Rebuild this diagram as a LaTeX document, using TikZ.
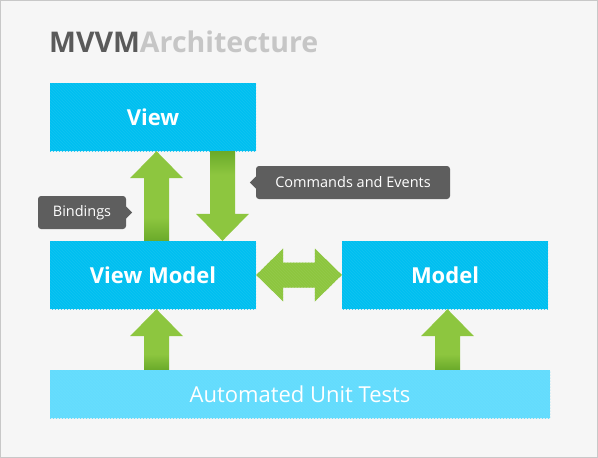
\documentclass[tikz,border=0pt]{standalone}
\usepackage{fontspec}
\setmainfont{Open Sans}
\usetikzlibrary{calc,patterns}

\definecolor{pagebg}{HTML}{F6F6F6}
\definecolor{framegray}{HTML}{C8C8C8}
\definecolor{boxblue}{HTML}{00BFF0}
\definecolor{barblue}{HTML}{6BDFFF}
\definecolor{arrowgreen}{HTML}{8DC63F}
\definecolor{arrowdark}{HTML}{6AAA2A}
\definecolor{hintgray}{HTML}{5E5E5E}
\definecolor{titledark}{HTML}{5A5A5A}
\definecolor{titlelight}{HTML}{C6C6C6}

\pgfdeclareverticalshading{greenfade}{100bp}{color(0bp)=(arrowdark); color(25bp)=(arrowdark); color(38bp)=(arrowgreen); color(100bp)=(arrowgreen)}

\tikzset{
  stripes/.style={postaction={pattern=north west lines, pattern color=#1}},
  layerbox/.style={fill=boxblue, text=white, minimum width=206pt, minimum height=68pt,
    inner sep=0pt, font=\fontsize{22}{26}\selectfont\bfseries, stripes=boxblue!93!white},
  testbar/.style={layerbox, fill=barblue, minimum width=500pt, minimum height=48pt,
    font=\fontsize{22}{26}\selectfont, stripes=barblue!92!white},
  hintbox/.style={fill=hintgray, text=white, rounded corners=3pt, minimum height=33pt,
    inner sep=0pt, font=\fontsize{14.5}{17}\selectfont},
  rising/.style={shade, shading=greenfade},
  falling/.style={shade, shading=greenfade, shading angle=180},
  flat/.style={fill=arrowgreen, stripes=arrowgreen!94!white}
}

\newcommand{\fatarrow}[3]{%
  \path[#1] let \p1=(#2), \p2=(#3), \p3=($(\p2)!27pt!(\p1)$) in
    ($(\p1)!12.5pt!90:(\p2)$) -- ($(\p3)!12.5pt!90:(\p2)$) --
    ($(\p3)!26.5pt!90:(\p2)$) -- (\p2) --
    ($(\p3)!26.5pt!-90:(\p2)$) -- ($(\p3)!12.5pt!-90:(\p2)$) --
    ($(\p1)!12.5pt!-90:(\p2)$) -- cycle;}

\newcommand{\fatdouble}[3]{%
  \path[#1] let \p1=(#2), \p2=(#3), \p3=($(\p2)!27pt!(\p1)$),
    \p4=($(\p1)!27pt!(\p2)$) in
    (\p1) -- ($(\p4)!26.5pt!90:(\p2)$) -- ($(\p4)!12.5pt!90:(\p2)$) --
    ($(\p3)!12.5pt!90:(\p2)$) -- ($(\p3)!26.5pt!90:(\p2)$) -- (\p2) --
    ($(\p3)!26.5pt!-90:(\p2)$) -- ($(\p3)!12.5pt!-90:(\p2)$) --
    ($(\p4)!12.5pt!-90:(\p2)$) -- ($(\p4)!26.5pt!-90:(\p2)$) -- cycle;}

\begin{document}
\begin{tikzpicture}[x=1pt,y=-1pt]
  \useasboundingbox (0,0) rectangle (598,458);
  \fill[pagebg] (0,0) rectangle (598,458);
  \draw[framegray, line width=1pt] (0.5,0.5) rectangle (597.5,457.5);

  \node[anchor=base west, inner sep=0pt, font=\fontsize{28.5}{32}\selectfont\bfseries]
    (title) at (49,52) {\textcolor{titledark}{MVVM}\textcolor{titlelight}{Architecture}};

  \node[layerbox] (view)  at (153,117) {View};
  \node[layerbox] (vm)    at (153,275) {View Model};
  \node[layerbox] (model) at (445,275) {Model};
  \node[testbar]  (tests) at (300,394) {Automated Unit Tests};

  \coordinate (bx) at (156.5,0);
  \coordinate (cx) at (222.5,0);
  \coordinate (rx) at (447.5,0);

  \fatarrow{rising}{vm.north -| bx}{view.south -| bx}
  \fatarrow{falling}{view.south -| cx}{vm.north -| cx}
  \fatdouble{flat}{vm.east}{model.west}
  \fatarrow{rising}{tests.north -| bx}{vm.south -| bx}
  \fatarrow{rising}{tests.north -| rx}{model.south -| rx}

  \node[hintbox, minimum width=88pt]  (bind) at (82,212.5) {Bindings};
  \node[hintbox, minimum width=194pt] (cmd)  at (353,182.5) {Commands and Events};
  \fill[hintgray] ($(bind.east)+(0,-6)$) -- ($(bind.east)+(6,0)$) -- ($(bind.east)+(0,6)$) -- cycle;
  \fill[hintgray] ($(cmd.west)+(0,-6)$) -- ($(cmd.west)+(-6,0)$) -- ($(cmd.west)+(0,6)$) -- cycle;
\end{tikzpicture}
\end{document}
